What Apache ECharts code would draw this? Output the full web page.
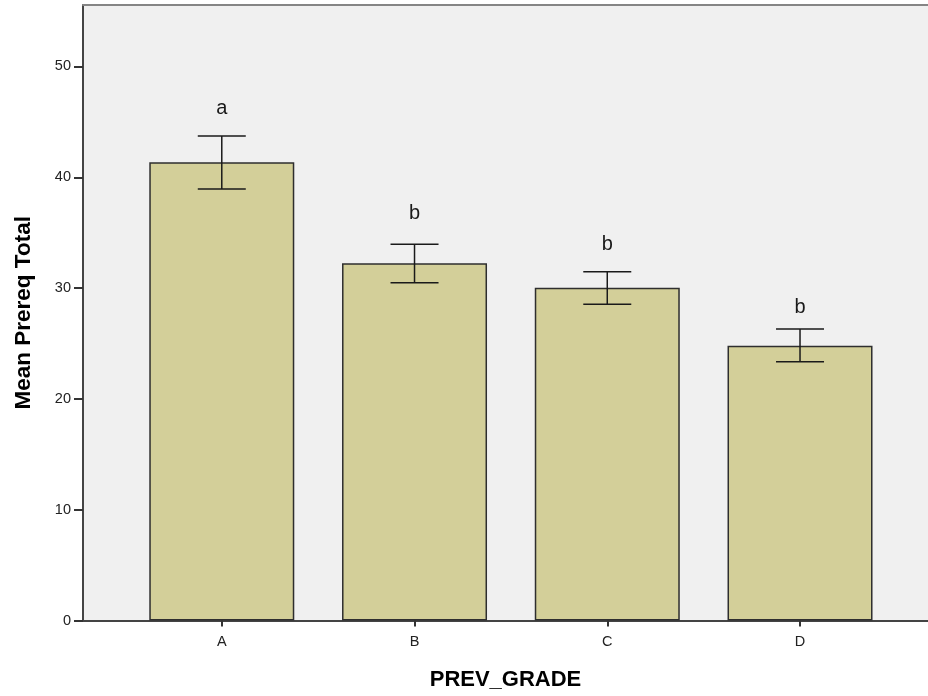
<!DOCTYPE html>
<html>
<head>
<meta charset="utf-8">
<script src="https://cdn.jsdelivr.net/npm/echarts@6/dist/echarts.min.js"></script>
<style>
  html, body { margin: 0; padding: 0; background: #ffffff; }
  #chart { width: 928px; height: 696px; }
</style>
</head>
<body>
<div id="chart"></div>
<script>
// Mean prerequisite total by previous grade, with error bars and group letters
const categories = ['A', 'B', 'C', 'D'];
const means = [41.35, 32.24, 30.04, 24.80];
const errLow = [38.94, 30.49, 28.54, 23.36];
const errHigh = [43.73, 33.95, 31.48, 26.31];
const groupLetters = ['a', 'b', 'b', 'b'];
const letterBaseline = [45.32, 35.85, 33.05, 27.36];
const yTicks = [0, 10, 20, 30, 40, 50];

const idx = categories.map((_, i) => i);
const chart = echarts.init(document.getElementById('chart'), null, { renderer: 'canvas' });

const FONT = 'Liberation Sans, Arial, sans-serif';

chart.setOption({
  animation: false,
  backgroundColor: '#ffffff',
  grid: {
    left: 83, top: 5, right: 0, bottom: 75.5,
    show: true,
    backgroundColor: '#f0f0f0',
    borderWidth: 0
  },
  xAxis: [
    {
      type: 'value',
      min: -0.72,
      max: 3.664,
      name: 'PREV_GRADE',
      nameLocation: 'middle',
      nameGap: 48,
      nameTextStyle: { fontFamily: FONT, fontSize: 22, fontWeight: 'bold', color: '#000' },
      axisLine: { show: true, onZero: false, lineStyle: { color: '#444', width: 2 } },
      axisTick: { show: true, customValues: idx, length: 6, lineStyle: { color: '#333', width: 2 } },
      axisLabel: {
        customValues: idx,
        formatter: v => categories[Math.round(v)],
        fontFamily: FONT, fontSize: 14.5, color: '#222', margin: 14
      },
      splitLine: { show: false }
    },
    {
      // top frame line of the plot area
      type: 'value',
      position: 'top',
      min: -0.72,
      max: 3.664,
      axisLine: { show: true, onZero: false, lineStyle: { color: '#858585', width: 2 } },
      axisTick: { show: false },
      axisLabel: { show: false },
      splitLine: { show: false }
    }
  ],
  yAxis: {
    type: 'value',
    min: 0,
    max: 55.55,
    name: 'Mean Prereq Total',
    nameLocation: 'middle',
    nameGap: 48,
    nameTextStyle: { fontFamily: FONT, fontSize: 22.5, fontWeight: 'bold', color: '#000' },
    axisLine: { show: true, onZero: false, lineStyle: { color: '#444', width: 2 } },
    axisTick: { show: true, customValues: yTicks, length: 9, lineStyle: { color: '#333', width: 2 } },
    axisLabel: { customValues: yTicks, fontFamily: FONT, fontSize: 14.5, color: '#222', margin: 12 },
    splitLine: { show: false }
  },
  series: [
    {
      type: 'bar',
      data: means.map((m, i) => [i, m]),
      barWidth: 145,
      itemStyle: { color: '#d3cf99', borderColor: '#2e2e2e', borderWidth: 1.5 },
      z: 2
    },
    {
      type: 'custom',
      z: 3,
      data: idx.map(i => [i, errLow[i], errHigh[i]]),
      renderItem: function (params, api) {
        const x = api.value(0);
        const lo = api.coord([x, api.value(1)]);
        const hi = api.coord([x, api.value(2)]);
        const half = 24;
        const style = { stroke: '#1a1a1a', lineWidth: 1.5 };
        return {
          type: 'group',
          children: [
            { type: 'line', shape: { x1: lo[0], y1: lo[1], x2: hi[0], y2: hi[1] }, style },
            { type: 'line', shape: { x1: hi[0] - half, y1: hi[1], x2: hi[0] + half, y2: hi[1] }, style },
            { type: 'line', shape: { x1: lo[0] - half, y1: lo[1], x2: lo[0] + half, y2: lo[1] }, style }
          ]
        };
      }
    },
    {
      type: 'custom',
      z: 4,
      data: idx.map(i => [i, letterBaseline[i]]),
      renderItem: function (params, api) {
        const p = api.coord([api.value(0), api.value(1)]);
        return {
          type: 'text',
          x: p[0], y: p[1],
          style: {
            text: groupLetters[params.dataIndex],
            fontFamily: FONT, fontSize: 20, fill: '#1a1a1a',
            align: 'center', verticalAlign: 'bottom'
          }
        };
      }
    }
  ]
});
</script>
</body>
</html>
